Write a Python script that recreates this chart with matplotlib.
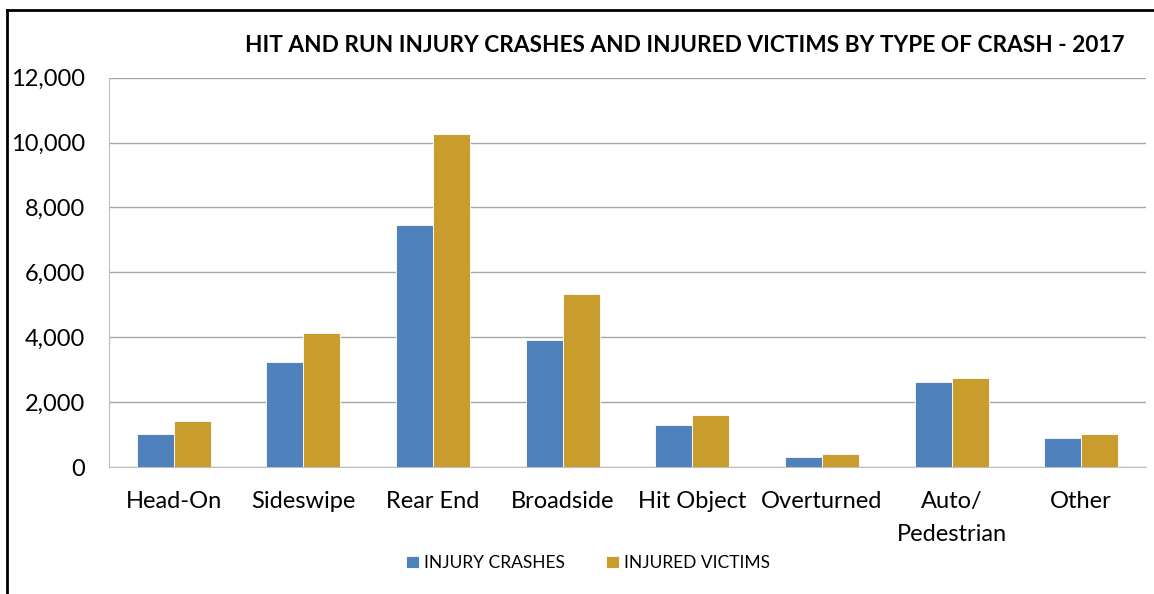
import matplotlib
matplotlib.use("Agg")
import numpy as np
from matplotlib import pyplot as plt
from matplotlib.lines import Line2D
from matplotlib.ticker import FuncFormatter

# values
categories = ["Head-On", "Sideswipe", "Rear End", "Broadside", "Hit Object",
              "Overturned", "Auto/\nPedestrian", "Other"]
injury_crashes = [1020, 3250, 7460, 3910, 1290, 300, 2610, 890]
injured_victims = [1420, 4120, 10250, 5320, 1590, 390, 2730, 1010]
y_ticks = [0, 2000, 4000, 6000, 8000, 10000, 12000]

plt.rcParams["font.family"] = ["Lato", "DejaVu Sans"]

fig = plt.figure(figsize=(11.54, 5.94), dpi=100)
ax = fig.add_axes([109 / 1154, 1 - 467 / 594, (1146 - 109) / 1154, (467 - 77.6) / 594])

x = np.arange(len(categories))
w = 0.285
ax.bar(x - w / 2, injury_crashes, w, color="#4F81BD", edgecolor="white",
       linewidth=0.6, label="INJURY CRASHES", zorder=3)
ax.bar(x + w / 2, injured_victims, w, color="#C99C2E", edgecolor="white",
       linewidth=0.6, label="INJURED VICTIMS", zorder=3)

ax.set_xlim(-0.5, len(categories) - 0.5)
ax.set_ylim(0, 12000)
ax.set_yticks(y_ticks)
ax.yaxis.set_major_formatter(FuncFormatter(lambda v, p: f"{int(v):,}"))
ax.set_xticks(x)
ax.set_xticklabels(categories, linespacing=1.7)
ax.grid(axis="y", color="#A6A6A6", linewidth=1)
ax.set_axisbelow(True)
for s in ["top", "right"]:
    ax.spines[s].set_visible(False)
for s in ["left", "bottom"]:
    ax.spines[s].set_color("#BFBFBF")
ax.tick_params(length=0, labelsize=17)
ax.tick_params(axis="y", pad=17)
ax.tick_params(axis="x", pad=17)

fig.text(685 / 1154, 1 - 45 / 594,
         "HIT AND RUN INJURY CRASHES AND INJURED VICTIMS BY TYPE OF CRASH - 2017",
         fontsize=16.3, fontweight="bold", ha="center", va="center")

fig.legend(loc="center", bbox_to_anchor=(588 / 1154, 1 - 563 / 594), ncol=2,
           frameon=False, fontsize=12.5, handlelength=0.75, handleheight=0.75,
           handletextpad=0.3, columnspacing=2.4)

# frame lines on the left and top edge of the picture
fig.add_artist(Line2D([7 / 1154, 7 / 1154], [0, 1 - 10 / 594], color="black", lw=2))
fig.add_artist(Line2D([7 / 1154, 1], [1 - 10 / 594, 1 - 10 / 594], color="black", lw=2))

fig.savefig("out.png", dpi=100)
